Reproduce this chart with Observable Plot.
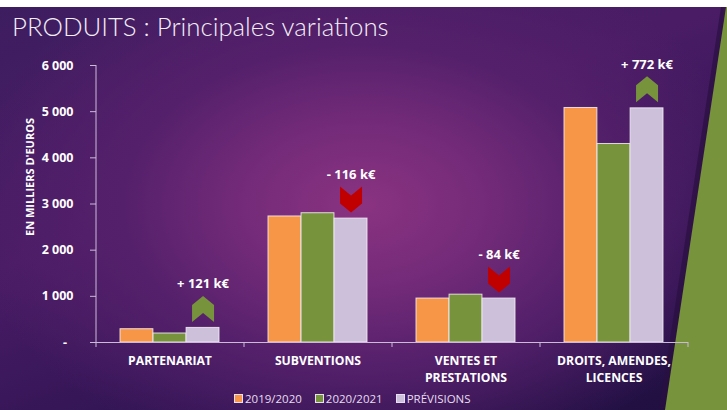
<!DOCTYPE html>
<html>
<head>
<meta charset="utf-8">
<script src="https://cdn.jsdelivr.net/npm/d3@7"></script>
<script src="https://cdn.jsdelivr.net/npm/@observablehq/plot@0.6"></script>
<style>
  html, body { margin: 0; padding: 0; background: #fff; }
  #slide {
    position: relative; width: 727px; height: 410px; overflow: hidden;
    background:
      radial-gradient(ellipse 55% 65% at 50% 50%, #8a3381 0%, #742b79 30%, #55206b 60%, rgba(40,18,72,0) 100%),
      linear-gradient(160deg, #3d1d5f 0%, #4a1c66 40%, #2c1350 75%, #1f0f3f 100%);
    font-family: "Open Sans", sans-serif;
  }
  #topband { position: absolute; left: 0; top: 0; width: 727px; height: 7px; background: #fff; z-index: 2; }
  #shade { position: absolute; inset: 0; background: #2a1040; opacity: 0.7; filter: blur(3px);
    clip-path: polygon(721px 7px, 727px 7px, 727px 410px, 659px 410px); z-index: 0; }
  #green { position: absolute; inset: 0; background: #77933c;
    clip-path: polygon(726px 7px, 727px 7px, 727px 410px, 665px 410px); z-index: 0; }
  #title { position: relative; z-index: 1; height: 48px; box-sizing: border-box; padding: 12px 0 0 12px;
    font-family: "Lato", sans-serif; font-weight: 300; font-size: 25.8px; line-height: 29px; color: #f2eef5; white-space: nowrap; }
  #chart { position: relative; z-index: 1; height: 338px; }
  #chart svg { display: block; }
  #legend { position: relative; z-index: 1; height: 24px; display: flex; align-items: center; padding-left: 234px;
    font-size: 11.5px; color: #e6def0; }
  #legend .item { display: flex; align-items: center; margin-right: 13px; }
  #legend .sw { width: 7px; height: 7px; border: 1px solid #e8e0f0; margin-right: 2px; }
</style>
</head>
<body>
<div id="slide">
  <div id="topband"></div>
  <div id="shade"></div>
  <div id="green"></div>
  <div id="title">PRODUITS : Principales variations</div>
  <div id="chart"></div>
  <div id="legend"></div>
</div>
<script>
const categories = ["PARTENARIAT", "SUBVENTIONS", "VENTES ET\nPRESTATIONS", "DROITS, AMENDES,\nLICENCES"];
const series = ["2019/2020", "2020/2021", "PRÉVISIONS"];
const values2019 = [288, 2730, 952, 5080];
const values2020 = [195, 2800, 1036, 4300];
const valuesPrev = [316, 2684, 952, 5072];
const deltaLabels = ["+ 121 k€", "- 116 k€", "- 84 k€", "+ 772 k€"];
const deltaDirections = ["up", "down", "down", "up"];
const yTicks = [0, 1000, 2000, 3000, 4000, 5000, 6000];
const yLabel = "EN MILLIERS D'EUROS";
const seriesColors = ["#f79646", "#77933c", "#ccc0da"];

const W = 727, H = 338, ML = 96, MR = 39, MT = 17, MB = 44;
const padIn = 0.33, padOut = 0.165;
const step = (W - ML - MR) / (categories.length - padIn + 2 * padOut);
const third = step * (1 - padIn) / series.length;
const axisColor = "#cbbbd9";

const seriesValues = [values2019, values2020, valuesPrev];
const rows = series.map((s, j) => categories.map((c, i) => ({cat: c, series: s, value: seriesValues[j][i]})));
const annots = categories.map((c, i) => ({cat: c, value: valuesPrev[i], label: deltaLabels[i], dir: deltaDirections[i]}));

const chevronUp = {draw(ctx) {
  ctx.moveTo(0, -13); ctx.lineTo(11, -4); ctx.lineTo(11, 13); ctx.lineTo(0, 4);
  ctx.lineTo(-11, 13); ctx.lineTo(-11, -4); ctx.closePath();
}};
const chevronDown = {draw(ctx) {
  ctx.moveTo(-11, -13); ctx.lineTo(0, -4); ctx.lineTo(11, -13); ctx.lineTo(11, 4);
  ctx.lineTo(0, 13); ctx.lineTo(-11, 4); ctx.closePath();
}};

const fmt = d => d === 0 ? "-\u00a0\u00a0" : d3.format(",")(d).replace(/,/g, "\u00a0");

const plot = Plot.plot({
  width: W, height: H, marginLeft: ML, marginRight: MR, marginTop: MT, marginBottom: MB,
  style: {background: "transparent", color: "white", fontFamily: "Open Sans, sans-serif", overflow: "visible"},
  x: {domain: categories, paddingInner: padIn, paddingOuter: padOut, label: null, axis: null},
  y: {domain: [0, 6000], label: null, axis: null},
  marks: [
    ...rows.map((r, j) => Plot.barY(r, {
      x: "cat", y: "value", fill: seriesColors[j],
      insetLeft: j * third, insetRight: (series.length - 1 - j) * third,
      stroke: "#f4eef6", strokeWidth: 1, strokeOpacity: 0.85
    })),
    Plot.ruleY([0], {stroke: axisColor, strokeWidth: 1}),
    Plot.ruleX([categories[0]], {dx: -step / 2, stroke: axisColor, insetBottom: -5}),
    Plot.ruleX(categories, {dx: step / 2, y1: 0, y2: 0, insetTop: 5, stroke: axisColor}),
    Plot.axisY({ticks: yTicks, tickFormat: fmt, tickSize: 6, tickPadding: 17, stroke: axisColor,
      fill: "white", fontSize: 12.5, fontWeight: "bold"}),
    Plot.axisX({tickSize: 0, tickPadding: 11, fill: "white", fontSize: 12.2, fontWeight: "bold", lineHeight: 1.38, label: null}),
    Plot.text([yLabel], {frameAnchor: "left", textAnchor: "middle", rotate: -90, dx: -66, dy: -27, fill: "white",
      fontSize: 11, fontWeight: "bold"}),
    Plot.dot(annots.filter(d => d.dir === "up"), {x: "cat", y: "value", dx: third, dy: -19,
      symbol: chevronUp, fill: "#77933c", stroke: "none"}),
    Plot.dot(annots.filter(d => d.dir === "down"), {x: "cat", y: "value", dx: third, dy: -19,
      symbol: chevronDown, fill: "#c00000", stroke: "none"}),
    Plot.text(annots, {x: "cat", y: "value", text: "label", dx: third, dy: -44, fill: "white",
      fontSize: 13, fontWeight: "bold"})
  ]
});
document.getElementById("chart").appendChild(plot);

const legend = document.getElementById("legend");
series.forEach((s, j) => {
  const item = document.createElement("div");
  item.className = "item";
  const sw = document.createElement("span");
  sw.className = "sw";
  sw.style.background = seriesColors[j];
  const t = document.createElement("span");
  t.textContent = s;
  item.appendChild(sw); item.appendChild(t);
  legend.appendChild(item);
});
</script>
</body>
</html>
